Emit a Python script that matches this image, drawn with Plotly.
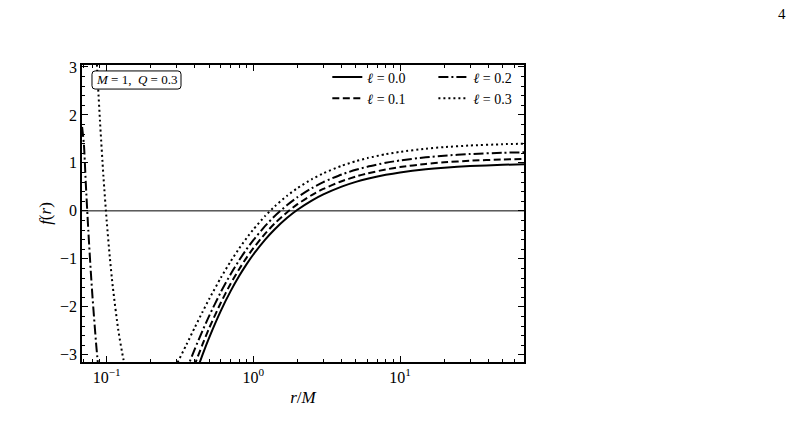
import plotly.graph_objects as go

# ---------------- data ----------------
R_RIGHT = [0.25, 0.3, 0.35, 0.4, 0.45, 0.5, 0.6, 0.7, 0.8, 0.9, 1.0, 1.2, 1.4, 1.7,
           2.0, 2.5, 3.0, 4.0, 5.0, 6.0, 8.0, 10.0, 15.0, 20.0, 30.0, 50.0, 70.0]
F_L00 = [-5.56, -4.667, -3.980, -3.438, -3.000, -2.640, -2.083, -1.673, -1.359, -1.111,
         -0.910, -0.604, -0.383, -0.145, 0.023, 0.214, 0.343, 0.506, 0.604, 0.669,
         0.751, 0.801, 0.867, 0.900, 0.933, 0.960, 0.971]
F_L01 = [-5.111, -4.321, -3.696, -3.194, -2.785, -2.444, -1.914, -1.519, -1.215, -0.974,
         -0.778, -0.478, -0.261, -0.027, 0.139, 0.329, 0.457, 0.618, 0.716, 0.781,
         0.863, 0.912, 0.978, 1.011, 1.045, 1.071, 1.083]
F_L02 = [-4.500, -3.854, -3.316, -2.871, -2.500, -2.188, -1.693, -1.320, -1.030, -0.799,
         -0.609, -0.319, -0.107, 0.122, 0.285, 0.473, 0.599, 0.759, 0.856, 0.921,
         1.002, 1.051, 1.117, 1.150, 1.184, 1.210, 1.221]
F_L03 = [-3.633, -3.197, -2.786, -2.423, -2.109, -1.837, -1.395, -1.054, -0.784, -0.567,
         -0.388, -0.111, 0.094, 0.316, 0.475, 0.658, 0.782, 0.940, 1.036, 1.100,
         1.181, 1.230, 1.296, 1.329, 1.362, 1.389, 1.400]

# inner branches (small r) that enter the visible window
R_LEFT_L02 = [0.068, 0.07, 0.072, 0.075, 0.078, 0.08, 0.085, 0.09, 0.1, 0.12, 0.15, 0.2]
F_LEFT_L02 = [1.75, 1.378, 0.599, -0.417, -1.277, -1.777, -2.815, -3.611, -4.688, -5.651, -5.833, -5.234]
R_LEFT_L03 = [0.08, 0.085, 0.0875, 0.09, 0.095, 0.1, 0.105, 0.11, 0.12, 0.13, 0.14, 0.16, 0.2]
F_LEFT_L03 = [5.128, 3.322, 2.561, 1.883, 0.727, -0.204, -0.959, -1.573, -2.483, -3.088, -3.486, -3.896, -3.980]

ELL = '<span style="font-family:DejaVu Serif"><i>ℓ</i></span>'
LABELS = [ELL + " = 0.0", ELL + " = 0.1", ELL + " = 0.2", ELL + " = 0.3"]
X_TICKS = [0.1, 1, 10]
X_TICKTEXT = ["10<sup>−1</sup>", "10<sup>0</sup>", "10<sup>1</sup>"]
Y_RANGE = [-3.15, 3.04]

# ---------------- figure ----------------
FONT = "Liberation Serif"
series = [
    (R_RIGHT, F_L00, "solid", "legend"),
    (R_RIGHT, F_L01, "7px,3.5px", "legend"),
    (R_LEFT_L02 + R_RIGHT, F_LEFT_L02 + F_L02, "10px,3px,2px,3px", "legend2"),
    (R_LEFT_L03 + R_RIGHT, F_LEFT_L03 + F_L03, "2px,3px", "legend2"),
]

fig = go.Figure()
for (x, y, dash, lg), name in zip(series, LABELS):
    fig.add_trace(go.Scatter(
        x=x, y=y, mode="lines", name=name, legend=lg,
        line=dict(color="black", width=2, dash=dash, shape="spline", smoothing=0.6),
    ))

fig.add_shape(type="line", xref="paper", yref="y", x0=0, x1=1, y0=0, y1=0,
              line=dict(color="black", width=1))

# rounded box for the parameter label
def rounded_box(x0, x1, y0, y1, rx, ry):
    return (f"M {x0+rx},{y0} L {x1-rx},{y0} Q {x1},{y0} {x1},{y0+ry} "
            f"L {x1},{y1-ry} Q {x1},{y1} {x1-rx},{y1} L {x0+rx},{y1} "
            f"Q {x0},{y1} {x0},{y1-ry} L {x0},{y0+ry} Q {x0},{y0} {x0+rx},{y0} Z")

fig.add_shape(type="path", xref="paper", yref="paper",
              path=rounded_box(0.0226, 0.224, 0.919, 0.980, 0.007, 0.011),
              line=dict(color="black", width=1), fillcolor="white")
fig.add_annotation(xref="paper", yref="paper", x=0.123, y=0.950,
                   text="<i>M</i> = 1,  <i>Q</i> = 0.3", showarrow=False,
                   xanchor="center", yanchor="middle",
                   font=dict(family=FONT, size=13, color="black"))
fig.add_annotation(xref="paper", yref="paper", x=1.584, y=1.172, text="4",
                   showarrow=False, xanchor="center", yanchor="middle",
                   font=dict(family=FONT, size=15, color="black"))

axis_common = dict(showline=True, linecolor="black", linewidth=1.5, mirror="allticks",
                   ticks="inside", ticklen=6, tickwidth=1, tickcolor="black",
                   showgrid=False, zeroline=False,
                   tickfont=dict(family=FONT, size=16, color="black"))

fig.update_xaxes(type="log", range=[-1.1681, 1.8451],
                 tickvals=X_TICKS, ticktext=X_TICKTEXT,
                 minor=dict(ticks="inside", ticklen=3, tickcolor="black", dtick="D1", showgrid=False),
                 title=dict(text="<i>r</i>/<i>M</i>", font=dict(family=FONT, size=17, color="black"),
                            standoff=6),
                 **axis_common)
fig.update_yaxes(range=Y_RANGE, dtick=1, tick0=0,
                 minor=dict(ticks="inside", ticklen=3, tickcolor="black", dtick=0.2, showgrid=False),
                 title=dict(text="<i>f</i>(<i>r</i>)", font=dict(family=FONT, size=17, color="black"),
                            standoff=4),
                 **axis_common)

legend_common = dict(bgcolor="rgba(0,0,0,0)", borderwidth=0, xanchor="left", yanchor="top",
                     font=dict(family=FONT, size=14, color="black"), tracegroupgap=0,
                     itemwidth=30)
fig.update_layout(
    width=793, height=440,
    margin=dict(l=82, r=269, t=65, b=78),
    paper_bgcolor="white", plot_bgcolor="white",
    legend=dict(x=0.555, y=1.012, **legend_common),
    legend2=dict(x=0.795, y=1.012, **legend_common),
    showlegend=True,
)

fig.write_html("out.html")
